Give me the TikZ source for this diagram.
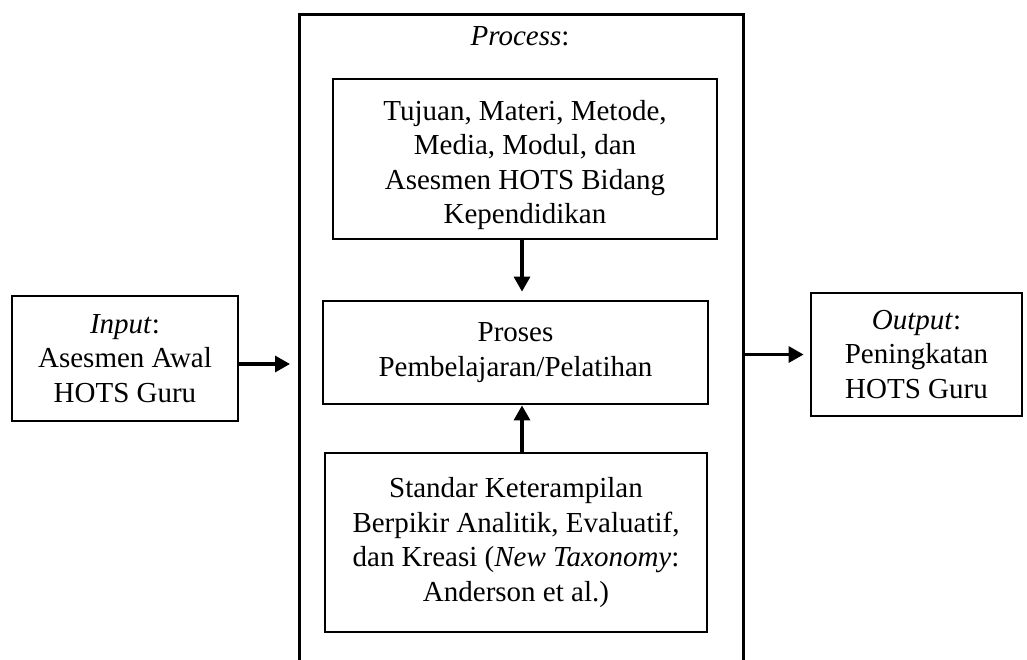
\documentclass[tikz,border=0pt]{standalone}
\usepackage{fontspec}
\setmainfont{Liberation Serif}
\usetikzlibrary{arrows.meta,positioning}
\tikzset{
  hotsbox/.style={draw, line width=2.8pt, align=center, inner sep=0pt,
                  font=\fontsize{29}{34.5}\selectfont},
  harr/.style={-{Triangle[length=15pt,width=16pt]}, line width=3.2pt},
}
\begin{document}
\begin{tikzpicture}[x=1pt,y=-1pt]
    \useasboundingbox (0,0) rectangle (1027,660);
    \node[draw, line width=2.8pt, minimum width=444pt, minimum height=720pt, anchor=north west] (proc) at (298,13) {};
    \node[hotsbox, draw=none, anchor=north] (proclbl) at (520,25) {\textit{Process}:};
    \node[hotsbox, minimum width=384pt, minimum height=160pt] (tujuan) at (525,159)
      {\rule{0pt}{32pt}Tujuan, Materi, Metode,\\ Media, Modul, dan\\ Asesmen HOTS Bidang\\ Kependidikan};
    \node[hotsbox, minimum width=385pt, minimum height=103pt] (proses) at (515.5,352.5)
      {Proses\\ Pembelajaran/Pelatihan};
    \node[hotsbox, minimum width=382pt, minimum height=179pt] (standar) at (516,542.5)
      {Standar Keterampilan\\ Berpikir Analitik, Evaluatif,\\ dan Kreasi (\textit{New Taxonomy}:\\ Anderson et al.)};
    \node[hotsbox, minimum width=226pt, minimum height=125pt] (input) at (125,358.5)
      {\textit{Input}:\\ Asesmen Awal\\ HOTS Guru};
    \node[hotsbox, minimum width=211pt, minimum height=123pt] (output) at (916.5,354.5)
      {\textit{Output}:\\ Peningkatan\\ HOTS Guru};
    \coordinate (mid) at (522,0);
    \coordinate (inlvl) at (0,364);
    \draw[harr, shorten >=8pt] (tujuan.south -| mid) -- (proses.north -| mid);
    \draw[harr] (standar.north -| mid) -- (proses.south -| mid);
    \draw[harr, shorten >=8pt] (input.east |- inlvl) -- (proc.west |- inlvl);
    \draw[harr, shorten >=6pt] (proc.east |- output) -- (output.west);
  \end{tikzpicture}
\end{document}
